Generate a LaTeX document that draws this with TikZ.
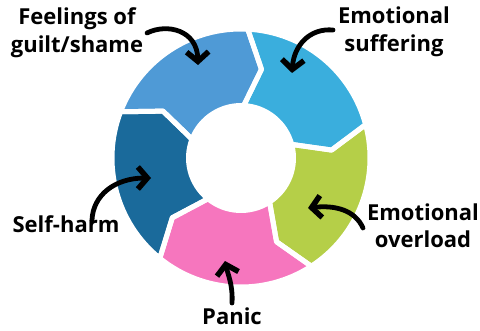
\documentclass[tikz,border=0pt]{standalone}
\usepackage{fontspec}
\setmainfont{Open Sans}
\usetikzlibrary{arrows.meta}
\definecolor{seglight}{HTML}{4F9AD6}
\definecolor{segcyan}{HTML}{3AAEDD}
\definecolor{seggreen}{HTML}{B5CF48}
\definecolor{segpink}{HTML}{F676BE}
\definecolor{segdark}{HTML}{1A6A9B}
\tikzset{
  lbl/.style={font=\fontsize{22}{28}\selectfont\bfseries, align=center, inner sep=0pt, text=black},
  curvearrow/.style={line width=4.8pt, line cap=round, -{Straight Barb[length=9.5pt,width=22pt,line width=5.5pt]}},
  gapline/.style={draw=white, line width=5pt, line join=round}
}
\newcommand{\segpath}[1]{%
  (#1:129) arc[start angle=#1, end angle=#1-72, radius=129]
  -- (#1-82:91) -- (#1-72:52.5)
  arc[start angle=#1-72, end angle=#1, radius=52.5]
  -- (#1-10:91) -- cycle}
\begin{document}
\begin{tikzpicture}[x=1pt,y=1pt]
\useasboundingbox (0,0) rectangle (480,330);
\begin{scope}[shift={(241,172)}]
  \fill[segcyan] \segpath{87};
  \fill[seggreen] \segpath{15};
  \fill[segpink] \segpath{-57};
  \fill[segdark] \segpath{-129};
  \fill[seglight] \segpath{-201};
  \draw[gapline] \segpath{87};
  \draw[gapline] \segpath{15};
  \draw[gapline] \segpath{-57};
  \draw[gapline] \segpath{-129};
  \draw[gapline] \segpath{-201};
\end{scope}
% labels
\node[lbl, anchor=base] (guilt) at (77,277) {Feelings of\\guilt/shame};
\node[lbl, anchor=base] (suffer) at (394,278) {Emotional\\suffering};
\node[lbl, anchor=base] (self) at (66,97) {Self-harm};
\node[lbl, anchor=base] (over) at (423,82) {Emotional\\overload};
\node[lbl, anchor=base] (panic) at (232,6) {Panic};
% arrows
\coordinate (g1) at (147,297); \coordinate (g2) at (198,265);
\coordinate (s1) at (333,300); \coordinate (s2) at (292,257);
\coordinate (h1) at (92,110); \coordinate (h2) at (151,152);
\coordinate (o1) at (363,102); \coordinate (o2) at (308,122);
\coordinate (p1) at (232,27); \coordinate (p2) at (225,69);
\draw[curvearrow] (g1) .. controls (167,307) and (197,300) .. (g2);
\draw[curvearrow] (s1) .. controls (310,302) and (294,285) .. (s2);
\draw[curvearrow] (h1) .. controls (93,135) and (115,152) .. (h2);
\draw[curvearrow] (o1) .. controls (355,120) and (335,125) .. (o2);
\draw[curvearrow] (p1) .. controls (233,45) and (228,55) .. (p2);
\end{tikzpicture}
\end{document}
